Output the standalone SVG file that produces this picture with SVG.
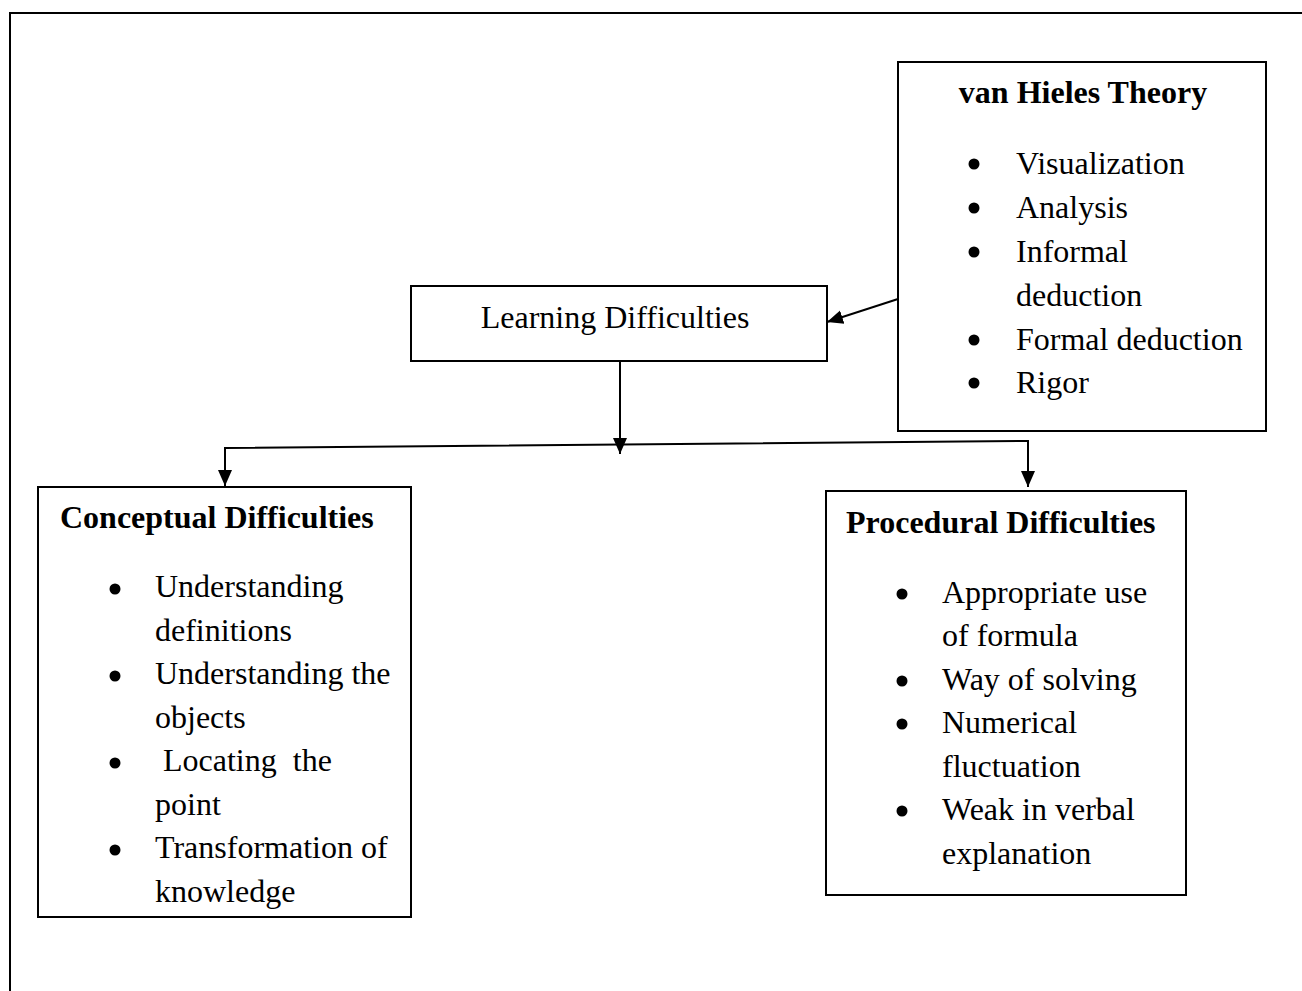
<svg xmlns="http://www.w3.org/2000/svg" width="1302" height="991" viewBox="0 0 1302 991">
<style>
.box{fill:#fff;stroke:#000;stroke-width:2}
.t{font-family:"Liberation Serif","Times New Roman",serif;font-size:32px;fill:#000;white-space:pre}
.b{font-weight:bold}
.con{stroke:#000;stroke-width:2;fill:none}
</style>
<defs>
<marker id="ah" markerUnits="userSpaceOnUse" markerWidth="16" markerHeight="16" refX="16" refY="8" orient="auto">
<path d="M0,1 L16,8 L0,15 z" fill="#000"/>
</marker>
</defs>
<rect width="1302" height="991" fill="#fff"/>
<path d="M10,991 L10,13 L1302,13" stroke="#000" stroke-width="2" fill="none"/>

<g id="vanhieles">
<rect class="box" x="898" y="62" width="368" height="369"/>
<text class="t b" x="1083" y="103" text-anchor="middle">van Hieles Theory</text>
<g fill="#000"><circle cx="974" cy="164" r="5.5"/><circle cx="974" cy="208" r="5.5"/><circle cx="974" cy="252" r="5.5"/><circle cx="974" cy="340" r="5.5"/><circle cx="974" cy="383" r="5.5"/></g>
<text class="t" x="1016" y="174">Visualization</text>
<text class="t" x="1016" y="218">Analysis</text>
<text class="t" x="1016" y="262">Informal</text>
<text class="t" x="1016" y="306">deduction</text>
<text class="t" x="1016" y="350">Formal deduction</text>
<text class="t" x="1016" y="393">Rigor</text>
</g>

<g id="learning">
<rect class="box" x="411" y="286" width="416" height="75"/>
<text class="t" x="615" y="328" text-anchor="middle">Learning Difficulties</text>
</g>

<g id="conceptual">
<rect class="box" x="38" y="487" width="373" height="430"/>
<text class="t b" x="60" y="528">Conceptual Difficulties</text>
<g fill="#000"><circle cx="115" cy="589" r="5.5"/><circle cx="115" cy="676" r="5.5"/><circle cx="115" cy="763" r="5.5"/><circle cx="115" cy="850" r="5.5"/></g>
<text class="t" x="155" y="597">Understanding</text>
<text class="t" x="155" y="641">definitions</text>
<text class="t" x="155" y="684">Understanding the</text>
<text class="t" x="155" y="728">objects</text>
<text class="t" x="155" y="771"> Locating  the</text>
<text class="t" x="155" y="815">point</text>
<text class="t" x="155" y="858">Transformation of</text>
<text class="t" x="155" y="902">knowledge</text>
</g>

<g id="procedural">
<rect class="box" x="826" y="491" width="360" height="404"/>
<text class="t b" x="846" y="533">Procedural Difficulties</text>
<g fill="#000"><circle cx="902" cy="594" r="5.5"/><circle cx="902" cy="681" r="5.5"/><circle cx="902" cy="724" r="5.5"/><circle cx="902" cy="811" r="5.5"/></g>
<text class="t" x="942" y="603">Appropriate use</text>
<text class="t" x="942" y="646">of formula</text>
<text class="t" x="942" y="690">Way of solving</text>
<text class="t" x="942" y="733">Numerical</text>
<text class="t" x="942" y="777">fluctuation</text>
<text class="t" x="942" y="820">Weak in verbal</text>
<text class="t" x="942" y="864">explanation</text>
</g>

<g id="connectors">
<line class="con" x1="898" y1="299" x2="827" y2="322" marker-end="url(#ah)"/>
<line class="con" x1="620" y1="361" x2="620" y2="454" marker-end="url(#ah)"/>
<polyline class="con" points="225,470 225,448 1028,441 1028,470"/>
<line class="con" x1="225" y1="460" x2="225" y2="486" marker-end="url(#ah)"/>
<line class="con" x1="1028" y1="460" x2="1028" y2="487" marker-end="url(#ah)"/>
</g>
</svg>
